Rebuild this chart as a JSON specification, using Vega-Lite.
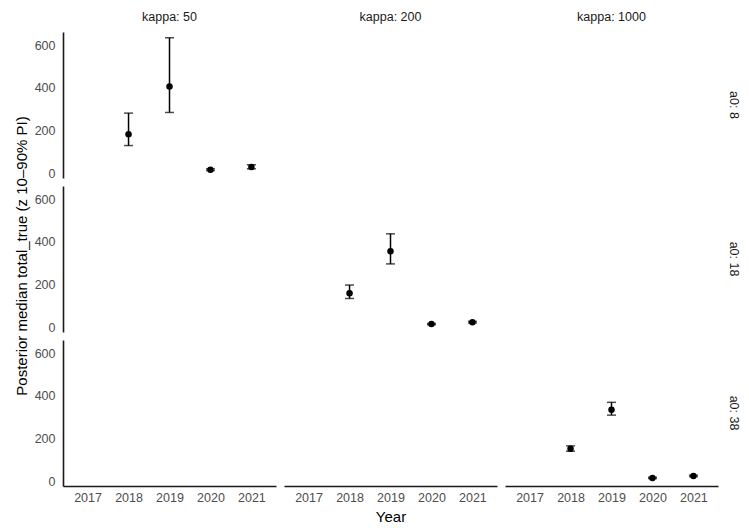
{
  "$schema": "https://vega.github.io/schema/vega-lite/v6.json",
  "padding": {"left": 14, "top": 10, "right": 5, "bottom": 5},
  "background": "white",
  "bounds": "flush",
  "data": {"values": [
    {"kappa": 50, "a0": 8, "year": "2018", "med": 183, "lo": 130, "hi": 282},
    {"kappa": 50, "a0": 8, "year": "2019", "med": 407, "lo": 285, "hi": 635},
    {"kappa": 50, "a0": 8, "year": "2020", "med": 17, "lo": 13, "hi": 21},
    {"kappa": 50, "a0": 8, "year": "2021", "med": 30, "lo": 21, "hi": 40},
    {"kappa": 200, "a0": 8},
    {"kappa": 1000, "a0": 8},
    {"kappa": 50, "a0": 18},
    {"kappa": 200, "a0": 18, "year": "2018", "med": 160, "lo": 135, "hi": 198},
    {"kappa": 200, "a0": 18, "year": "2019", "med": 356, "lo": 297, "hi": 438},
    {"kappa": 200, "a0": 18, "year": "2020", "med": 15, "lo": 12, "hi": 18},
    {"kappa": 200, "a0": 18, "year": "2021", "med": 24, "lo": 20, "hi": 28},
    {"kappa": 1000, "a0": 18},
    {"kappa": 50, "a0": 38},
    {"kappa": 200, "a0": 38},
    {"kappa": 1000, "a0": 38, "year": "2018", "med": 153, "lo": 141, "hi": 166},
    {"kappa": 1000, "a0": 38, "year": "2019", "med": 335, "lo": 310, "hi": 370},
    {"kappa": 1000, "a0": 38, "year": "2020", "med": 16, "lo": 13, "hi": 19},
    {"kappa": 1000, "a0": 38, "year": "2021", "med": 25, "lo": 22, "hi": 29}
  ]},
  "facet": {
    "column": {
      "field": "kappa", "type": "ordinal", "sort": "ascending",
      "header": {
        "title": "Year", "titleOrient": "bottom", "titleFontSize": 15, "titleFontWeight": "normal",
        "titleColor": "#000000", "titleFont": "Liberation Sans", "titlePadding": -4,
        "labelOrient": "top", "labelExpr": "'kappa: ' + datum.value",
        "labelFontSize": 12.5, "labelColor": "#1a1a1a", "labelFont": "Liberation Sans", "labelPadding": 9
      }
    },
    "row": {
      "field": "a0", "type": "ordinal", "sort": "ascending",
      "header": {
        "title": "Posterior median total_true (z 10–90% PI)", "titleOrient": "left", "titleFontSize": 15,
        "titleFontWeight": "normal", "titleColor": "#000000", "titleFont": "Liberation Sans", "titlePadding": -6,
        "labelOrient": "right", "labelAngle": 90, "labelExpr": "'a0: ' + datum.value",
        "labelFontSize": 12.5, "labelColor": "#1a1a1a", "labelFont": "Liberation Sans", "labelPadding": 9
      }
    }
  },
  "spacing": {"row": 8, "column": 8},
  "spec": {
    "width": 213,
    "height": 146,
    "encoding": {
      "x": {
        "field": "year", "type": "ordinal", "title": null,
        "scale": {"type": "point", "domain": ["2017", "2018", "2019", "2020", "2021"], "padding": 0.6},
        "axis": {"labelAngle": 0, "labelColor": "#4d4d4d", "labelPadding": 5}
      }
    },
    "layer": [
      {
        "mark": {"type": "text", "text": " ", "opacity": 0},
        "encoding": {"x": {"value": 0}, "y": {"value": 0}}
      },
      {
        "mark": {"type": "rule", "color": "#000000", "strokeWidth": 1.5},
        "encoding": {
          "y": {"field": "lo", "type": "quantitative", "title": null,
                "scale": {"domain": [-22, 662], "nice": false, "zero": false},
                "axis": {"values": [0, 200, 400, 600], "labelColor": "#4d4d4d", "labelPadding": 8}},
          "y2": {"field": "hi"}
        }
      },
      {
        "mark": {"type": "tick", "color": "#000000", "thickness": 1.5, "size": 9},
        "encoding": {"y": {"field": "lo", "type": "quantitative"}}
      },
      {
        "mark": {"type": "tick", "color": "#000000", "thickness": 1.5, "size": 9},
        "encoding": {"y": {"field": "hi", "type": "quantitative"}}
      },
      {
        "mark": {"type": "point", "filled": true, "color": "#000000", "opacity": 1, "size": 42},
        "encoding": {"y": {"field": "med", "type": "quantitative"}}
      }
    ]
  },
  "config": {
    "view": {"stroke": null},
    "font": "Liberation Sans",
    "axis": {
      "grid": false, "ticks": false, "domainColor": "#1a1a1a", "domainWidth": 1.6,
      "labelColor": "#4d4d4d", "labelFontSize": 12.5, "labelFont": "Liberation Sans"
    }
  }
}
